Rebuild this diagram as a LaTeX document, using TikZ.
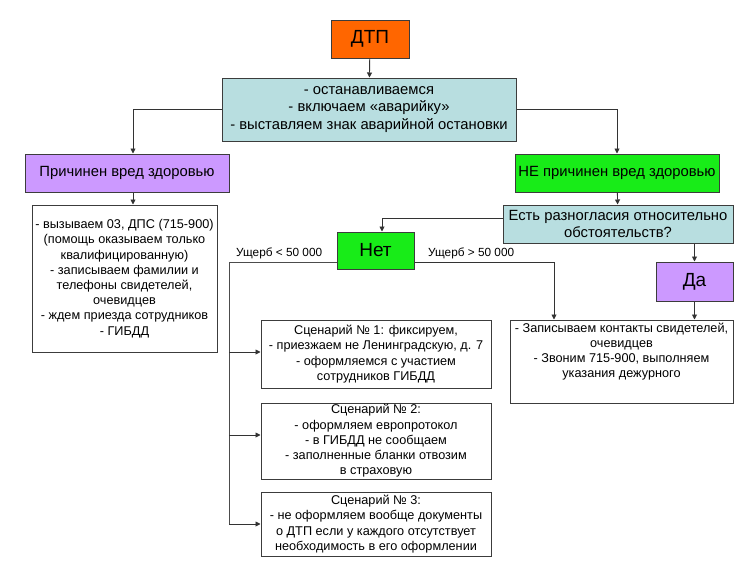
\documentclass[tikz,border=0pt]{standalone}
\usepackage{fontspec}
\setmainfont{Liberation Sans}
\usetikzlibrary{arrows.meta}
\definecolor{dtpOrange}{RGB}{255,102,0}
\definecolor{boxCyan}{RGB}{184,222,224}
\definecolor{boxLilac}{RGB}{204,153,255}
\definecolor{boxGreen}{RGB}{24,236,24}
\definecolor{lineGray}{RGB}{60,60,60}

\begin{document}
\begin{tikzpicture}[x=1pt, y=-1pt,
  box/.style={draw=lineGray, line width=1pt, align=center, inner sep=1pt},
  bigtxt/.style={font=\fontsize{14.8}{17.5}\selectfont},
  smalltxt/.style={font=\fontsize{12.7}{15.2}\selectfont},
  headtxt/.style={font=\fontsize{19}{22}\selectfont},
  arr/.style={draw=black!80, line width=0.9pt, -{Triangle[length=5pt,width=5pt]}},
  plain/.style={draw=black!70, line width=1pt},
  dmg/.style={font=\fontsize{11.8}{13}\selectfont, inner sep=1pt, anchor=south west}]
\useasboundingbox (0,0) rectangle (745,573);

% top of the chart
\node[box, fill=dtpOrange, headtxt, minimum width=78, minimum height=38] (dtp) at (370,39) {ДТП};
\node[box, fill=boxCyan, bigtxt, minimum width=294, minimum height=63] (steps) at (369,109.5)
  {- останавливаемся\\- включаем «аварийку»\\- выставляем знак аварийной остановки};

% left branch
\node[box, fill=boxLilac, bigtxt, minimum width=204, minimum height=38] (harm) at (127,173) {Причинен вред здоровью};
\node[box, fill=white, smalltxt, minimum width=185, minimum height=147] (harmact) at (124.5,278.5)
  {- вызываем 03, ДПС (715-900)\\(помощь оказываем только\\квалифицированную)\\- записываем фамилии и\\телефоны свидетелей,\\очевидцев\\- ждем приезда сотрудников\\- ГИБДД};

% right branch
\node[box, fill=boxGreen, bigtxt, minimum width=204, minimum height=38] (noharm) at (617,173) {НЕ причинен вред здоровью};
\node[box, fill=boxCyan, bigtxt, minimum width=230, minimum height=38] (question) at (618,224)
  {Есть разногласия относительно\\обстоятельств?};
\node[box, fill=boxGreen, headtxt, minimum width=77, minimum height=37] (no) at (375.5,250.5) {Нет};
\node[box, fill=boxLilac, headtxt, minimum width=77, minimum height=39] (yes) at (694.5,281.5) {Да};
\node[box, fill=white, minimum width=223, minimum height=83] (yesact) at (621.5,361.5) {};
\node[smalltxt, align=center, anchor=north, inner sep=3pt] (yestxt) at (yesact.north)
  {- Записываем контакты свидетелей,\\очевидцев\\- Звоним 715-900, выполняем\\указания дежурного};

% scenarios
\node[box, fill=white, smalltxt, minimum width=230, minimum height=68] (sc1) at (376,354)
  {Сценарий № 1: фиксируем,\\- приезжаем не Ленинградскую, д. 7\\- оформляемся с участием\\сотрудников ГИБДД};
\node[box, fill=white, smalltxt, minimum width=230, minimum height=76] (sc2) at (376,441)
  {Сценарий № 2:\\- оформляем европротокол\\- в ГИБДД не сообщаем\\- заполненные бланки отвозим\\в страховую};
\node[box, fill=white, smalltxt, minimum width=230, minimum height=64] (sc3) at (376,524)
  {Сценарий № 3:\\- не оформляем вообще документы\\о ДТП если у каждого отсутствует\\необходимость в его оформлении};

% damage labels
\node[dmg] (lt) at (235,260) {Ущерб < 50 000};
\node[dmg] (gt) at (427,260) {Ущерб > 50 000};
\coordinate (smalldmg) at (229,262);
\coordinate (bigdmg) at (554,262);

% connectors
\draw[arr] (dtp) -- (steps);
\draw[arr] (steps.west) -| ([xshift=6pt]harm.north);
\draw[arr] ([xshift=6pt]harm.south) -- ([xshift=6pt]harm.south |- harmact.north);
\draw[arr] (steps.east) -| (noharm.north);
\draw[arr] (noharm) -- (question);
\draw[arr] ([yshift=6pt]question.west) -| ([xshift=6.5pt]no.north);
\draw[arr] (yes.north |- question.south) -- (yes.north);
\draw[arr] (yes.south) -- (yes.south |- yesact.north);
\draw[arr] ([yshift=-11.5pt]no.east) -| (bigdmg |- yesact.north);
\draw[plain] ([yshift=-11.5pt]no.west) -- (smalldmg) -- (smalldmg |- sc3.west);
\draw[arr] ([yshift=2pt]sc1.west -| smalldmg) -- ([yshift=2pt]sc1.west);
\draw[arr] ([yshift=6pt]sc2.west -| smalldmg) -- ([yshift=6pt]sc2.west);
\draw[arr] (sc3.west -| smalldmg) -- (sc3.west);
\end{tikzpicture}
\end{document}
